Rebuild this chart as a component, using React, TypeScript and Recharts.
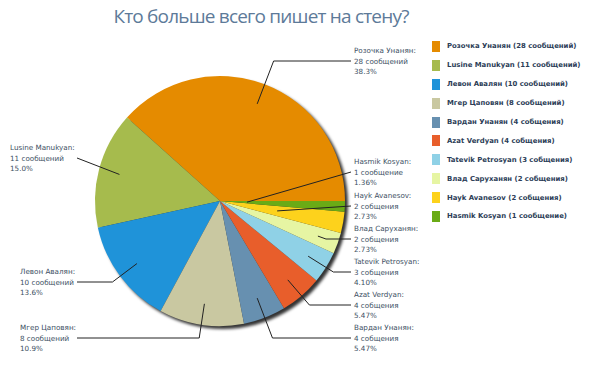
import { Cell, Legend, Pie, PieChart } from "recharts";

const names = [
  "Розочка Унанян",
  "Lusine Manukyan",
  "Левон Авалян",
  "Мгер Цаповян",
  "Вардан Унанян",
  "Azat Verdyan",
  "Tatevik Petrosyan",
  "Влад Саруханян",
  "Hayk Avanesov",
  "Hasmik Kosyan",
];
const counts = [28, 11, 10, 8, 4, 4, 3, 2, 2, 1];
const countLabels = [
  "28 сообщений",
  "11 сообщений",
  "10 сообщений",
  "8 сообщений",
  "4 собщения",
  "4 собщения",
  "3 собщения",
  "2 собщения",
  "2 собщения",
  "1 сообщение",
];
const percentLabels = ["38.3%", "15.0%", "13.6%", "10.9%", "5.47%", "5.47%", "4.10%", "2.73%", "2.73%", "1.36%"];
const colors = [
  "#e58b00",
  "#a6bb4d",
  "#1f93d9",
  "#c9c8a1",
  "#6790b0",
  "#e85e2b",
  "#8fd1e6",
  "#e6f5a3",
  "#fdd21c",
  "#6aab16",
];

const data = names.map((name, i) => ({ name, value: counts[i] }));
const total = counts.reduce((a, b) => a + b, 0);

// label layout: [text x, leader y]
const labelPos = [
  [354, 61],
  [10, 158],
  [20, 282],
  [20, 338],
  [354, 338],
  [354, 305],
  [354, 272],
  [354, 239],
  [354, 206],
  [354, 172],
];
const anchorR = [104, 104, 104, 104, 104, 104, 104, 104, 58, 27];

const labelFont = "'DejaVu Sans', Verdana, sans-serif";

function renderLabel(props: any) {
  const { cx, cy, midAngle, index } = props;
  const rad = (-midAngle * Math.PI) / 180;
  const dx = Math.cos(rad);
  const dy = Math.sin(rad);
  const ax = cx + anchorR[index] * dx;
  const ay = cy + anchorR[index] * dy;
  const [tx, ly] = labelPos[index];
  const right = tx > cx;
  const endX = right ? tx - 3 : 77;
  let ex = ax;
  let ey = ay;
  const t = (ly - ay) / dy;
  if (Number.isFinite(t) && t > 0) {
    ex = ax + t * dx;
    ey = ly;
    if ((right && ex > endX) || (!right && ex < endX)) {
      ex = endX;
    }
  }
  return (
    <g key={`lbl-${index}`}>
      <polyline
        points={`${ax},${ay} ${ex},${ey} ${endX},${ly}`}
        fill="none"
        stroke="#222"
        strokeWidth={1}
      />
      <text
        x={tx}
        y={ly}
        fontFamily={labelFont}
        fontSize={7.2}
        fill="#3d4f63"
        textAnchor="start"
      >
        <tspan x={tx} y={ly - 10.5} dominantBaseline="central">
          {names[index]}:
        </tspan>
        <tspan x={tx} y={ly} dominantBaseline="central">
          {countLabels[index]}
        </tspan>
        <tspan x={tx} y={ly + 10.5} dominantBaseline="central">
          {percentLabels[index]}
        </tspan>
      </text>
    </g>
  );
}

function LegendList() {
  return (
    <div>
      {names.map((n, i) => (
        <div
          key={n}
          style={{ display: "flex", alignItems: "center", height: 18.9 }}
        >
          <span
            style={{
              width: 8,
              height: 11,
              background: colors[i],
              display: "inline-block",
              marginRight: 7,
            }}
          />
          <span
            style={{
              fontFamily: labelFont,
              fontWeight: "bold",
              fontSize: 6.9,
              color: "#2c3d57",
              whiteSpace: "nowrap",
            }}
          >
            {n} ({countLabels[i]})
          </span>
        </div>
      ))}
    </div>
  );
}

export default function App() {
  return (
    <div
      style={{
        position: "fixed",
        left: 0,
        top: 0,
        width: 604,
        height: 378,
        background: "#fff",
      }}
    >
      <div
        style={{
          position: "absolute",
          left: 0,
          top: 3,
          width: 522,
          textAlign: "center",
          fontFamily: "'Open Sans', sans-serif",
          fontSize: 19,
          letterSpacing: -0.8,
          color: "#5d7a99",
          zIndex: 2,
        }}
      >
        Кто больше всего пишет на стену?
      </div>
      <PieChart width={604} height={378}>
        <defs>
          <filter id="pieShadow" x="-20%" y="-20%" width="140%" height="140%">
            <feGaussianBlur stdDeviation="1.6" />
          </filter>
        </defs>
        <Pie
          data={[{ name: "shadow", value: total }]}
          dataKey="value"
          cx={218}
          cy={199}
          outerRadius={125}
          stroke="none"
          legendType="none"
          isAnimationActive={false}
        >
          <Cell fill="#000" fillOpacity={0.8} filter="url(#pieShadow)" />
        </Pie>
        <Pie
          data={data}
          dataKey="value"
          nameKey="name"
          cx={215}
          cy={196}
          outerRadius={125}
          startAngle={0}
          endAngle={360}
          stroke="none"
          label={renderLabel}
          labelLine={false}
          isAnimationActive={false}
        >
          {data.map((d, i) => (
            <Cell key={d.name} fill={colors[i]} />
          ))}
        </Pie>
        <Legend
          layout="vertical"
          align="right"
          verticalAlign="top"
          content={() => <LegendList />}
          wrapperStyle={{ left: 432, top: 37, width: 172 }}
        />
      </PieChart>
    </div>
  );
}
